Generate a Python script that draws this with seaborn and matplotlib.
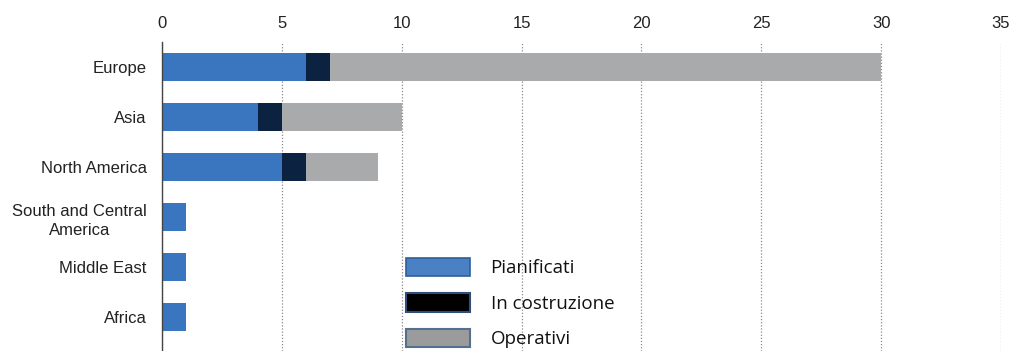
import matplotlib
matplotlib.use("Agg")
import matplotlib.pyplot as plt
from matplotlib.patches import Patch
import seaborn as sns
import pandas as pd
import numpy as np

categories = ["Europe", "Asia", "North America", "South and Central\nAmerica", "Middle East", "Africa"]
pianificati = [6, 4, 5, 1, 1, 1]
in_costruzione = [1, 1, 1, 0, 0, 0]
operativi = [23, 5, 3, 0, 0, 0]
x_ticks = [0, 5, 10, 15, 20, 25, 30, 35]
legend_labels = ["Pianificati", "In costruzione", "Operativi"]

sns.set_theme(style="white")
plt.rcParams["font.family"] = ["Liberation Sans", "DejaVu Sans"]

c_blue = "#3a76c0"
c_dark = "#0b2341"
c_gray = "#a8aaac"

p = np.array(pianificati, dtype=float)
c = np.array(in_costruzione, dtype=float)
o = np.array(operativi, dtype=float)

df = pd.DataFrame({
    "cat": categories,
    "p": p,
    "pc": p + c,
    "pco": p + c + o,
})

fig = plt.figure(figsize=(10.11, 3.51), dpi=100)
ax = fig.add_axes([162 / 1011, 0.0, (1001 - 162) / 1011, 1 - 42 / 351])

for col, colr, z in [("pco", c_gray, 2), ("pc", c_dark, 3), ("p", c_blue, 4)]:
    sns.barplot(data=df, y="cat", x=col, orient="h", color=colr, saturation=1,
                width=0.56, ax=ax, zorder=z, linewidth=0, edgecolor="none")

ax.set_xlim(0, 35)
ax.set_ylim(5.68, -0.5)
ax.set_xticks(x_ticks)
ax.xaxis.tick_top()
ax.tick_params(axis="x", length=0, pad=8, labelsize=12, labelcolor="#222222")
ax.tick_params(axis="y", length=0, pad=11, labelsize=12, labelcolor="#222222")
for lbl in ax.get_yticklabels():
    lbl.set_horizontalalignment("right")
    lbl.set_multialignment("center")
    lbl.set_linespacing(1.35)
ax.set_xlabel("")
ax.set_ylabel("")

ax.set_axisbelow(True)
ax.xaxis.grid(True, linestyle=(0, (1, 1.5)), color="#8a8a8a", linewidth=0.9)
ax.yaxis.grid(False)
for s in ["top", "right", "bottom"]:
    ax.spines[s].set_visible(False)
ax.spines["left"].set_color("#444444")
ax.spines["left"].set_linewidth(1.0)
ax.spines["left"].set_zorder(6)

handles = [
    Patch(facecolor="#4a80c4", edgecolor="#2f5f99", linewidth=1.2),
    Patch(facecolor="#000000", edgecolor="#2f4f7a", linewidth=1.5),
    Patch(facecolor="#9b9b9b", edgecolor="#55708f", linewidth=1.5),
]
fs = 13.5
px = fs * 100 / 72
leg = fig.legend(handles, legend_labels, loc="upper left",
                 bbox_to_anchor=(406 / 1011, 1 - 258 / 351),
                 frameon=False, handlelength=64 / px,
                 handleheight=21 / px,
                 handletextpad=1.1, labelspacing=16 / px, borderpad=0,
                 borderaxespad=0,
                 prop={"family": "Open Sans", "size": fs})
for t in leg.get_texts():
    t.set_color("#111111")

fig.savefig("out.png", dpi=100)
